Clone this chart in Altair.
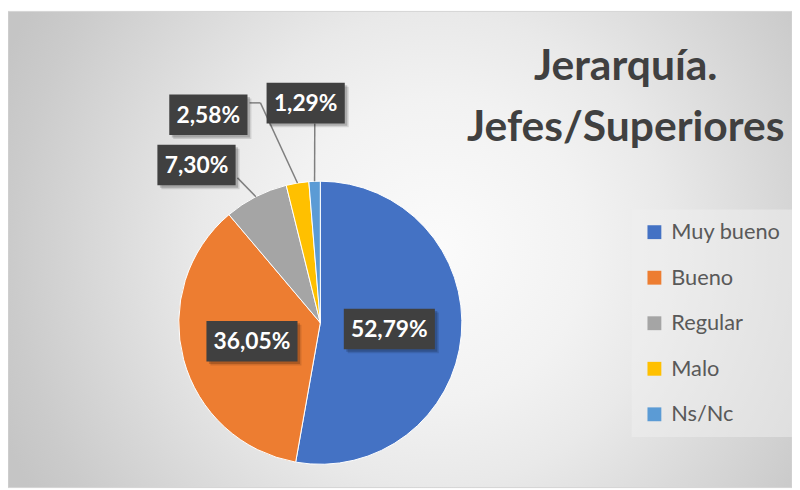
import altair as alt
import pandas as pd

# ---- data ----
categories = ["Muy bueno", "Bueno", "Regular", "Malo", "Ns/Nc"]
values = [52.79, 36.05, 7.30, 2.58, 1.29]
colors = ["#4472C4", "#ED7D31", "#A5A5A5", "#FFC000", "#5B9BD5"]
title_lines = ["Jerarquía.", "Jefes/Superiores"]

# label placement (Excel-style: inside at half radius, outside labels moved by hand)
LABEL_LAYOUT = {
    "Muy bueno": dict(lr=0.5, ox=-1.5, oy=0, out=False, e1x=0, e1y=0, e2x=0, e2y=0),
    "Bueno": dict(lr=0.5, ox=0, oy=0, out=False, e1x=0, e1y=0, e2x=0, e2y=0),
    "Regular": dict(lr=1.0, ox=-60, oy=-32, out=True, e1x=-18.6, e1y=-19, e2x=-18.6, e2y=-19),
    "Malo": dict(lr=1.0, ox=-90, oy=-69, out=True, e1x=-37.4, e1y=-81, e2x=-48.4, e2y=-81),
    "Ns/Nc": dict(lr=1.0, ox=-9, oy=-79, out=True, e1x=0.2, e1y=-58.5, e2x=0.2, e2y=-58.5),
}

rows = []
for i, (c, v) in enumerate(zip(categories, values)):
    r = {"cat": c, "value": v, "idx": i,
         "label": f"{v:.2f}".replace(".", ",") + "%"}
    r.update(LABEL_LAYOUT[c])
    rows.append(r)
df = pd.DataFrame(rows)

W, H = 792, 482
CX, CY, R = 315.5, 315.5, 143
FONT = "Lato"

base = alt.Chart(df).transform_window(
    cum="sum(value)", sort=[alt.SortField("idx")], frame=[None, 0]
).transform_joinaggregate(
    total="sum(value)"
).transform_calculate(
    mid="(datum.cum - datum.value/2) / datum.total * 2 * PI",
    ex=f"{CX} + {R} * sin(datum.mid)",
    ey=f"{CY} - {R} * cos(datum.mid)",
).transform_calculate(
    ax=f"{CX} + {R} * datum.lr * sin(datum.mid) + datum.ox",
    ay=f"{CY} - {R} * datum.lr * cos(datum.mid) + datum.oy",
    bw="14 + 13 * length(datum.label)",
    l1x="datum.ex + datum.e1x", l1y="datum.ey + datum.e1y",
    l2x="datum.ex + datum.e2x", l2y="datum.ey + datum.e2y",
).transform_calculate(
    bx1="datum.ax - datum.bw/2", bx2="datum.ax + datum.bw/2",
    by1="datum.ay - 20.5", by2="datum.ay + 20.5",
)

one = pd.DataFrame({"k": [0]})

frame = alt.Chart(one).mark_rect(
    fill={"gradient": "radial", "x1": 0.545, "y1": 0.5, "r1": 0,
          "x2": 0.545, "y2": 0.5, "r2": 0.6,
          "stops": [{"offset": 0, "color": "#fbfbfb"},
                    {"offset": 0.32, "color": "#f2f2f2"},
                    {"offset": 0.5, "color": "#e9e9e9"},
                    {"offset": 0.9, "color": "#cbcbcb"},
                    {"offset": 1, "color": "#c5c5c5"}]},
    stroke="#d4d4d4", strokeWidth=1,
).encode(x=alt.value(0), x2=alt.value(W), y=alt.value(1), y2=alt.value(H))

shadows = [
    alt.Chart(one).mark_circle(color="black", opacity=0.035).encode(
        x=alt.value(CX), y=alt.value(CY + 3), size=alt.value(3.14159 * r * r))
    for r in (155, 152, 150, 148, 146, 144.5)
]

pie = base.mark_arc(stroke="white", strokeWidth=1).encode(
    theta=alt.Theta("value:Q", stack=True),
    order=alt.Order("idx:Q"),
    color=alt.Color("cat:N", sort=categories,
                    scale=alt.Scale(domain=categories, range=colors),
                    legend=alt.Legend(title=None, orient="none", legendX=630, legendY=201,
                                      symbolType="square", symbolSize=196, symbolStrokeWidth=0,
                                      labelFont=FONT, labelFontSize=22, labelColor="#595959",
                                      rowPadding=24, labelOffset=6, padding=12,
                                      fillColor="rgba(240,240,240,0.5)")),
    x=alt.value(CX), y=alt.value(CY), radius=alt.value(R),
)

out = base.transform_filter("datum.out")
lead1 = out.mark_rule(color="#7f7f7f", strokeWidth=1.5).encode(
    x=alt.X("ex:Q", scale=None, axis=None), y=alt.Y("ey:Q", scale=None, axis=None),
    x2="l1x:Q", y2="l1y:Q")
lead2 = out.mark_rule(color="#7f7f7f", strokeWidth=1.5).encode(
    x=alt.X("l1x:Q", scale=None, axis=None), y=alt.Y("l1y:Q", scale=None, axis=None),
    x2="l2x:Q", y2="l2y:Q")

box_shadows = [
    base.transform_calculate(sx1=f"datum.bx1+{d}", sx2=f"datum.bx2+{d}",
                             sy1=f"datum.by1+{d}", sy2=f"datum.by2+{d}")
    .mark_rect(fill="black", opacity=op).encode(
        x=alt.X("sx1:Q", scale=None, axis=None), x2="sx2:Q",
        y=alt.Y("sy1:Q", scale=None, axis=None), y2="sy2:Q")
    for d, op in ((4, 0.12), (2.5, 0.18))
]
boxes = base.mark_rect(fill="#404040").encode(
    x=alt.X("bx1:Q", scale=None, axis=None), x2="bx2:Q",
    y=alt.Y("by1:Q", scale=None, axis=None), y2="by2:Q")
texts = base.mark_text(font=FONT, fontWeight="bold", fontSize=23, color="white",
                       baseline="middle", align="center", dy=1).encode(
    x=alt.X("ax:Q", scale=None, axis=None), y=alt.Y("ay:Q", scale=None, axis=None),
    text="label:N")

title1 = alt.Chart(one).mark_text(font=FONT, fontWeight="bold", fontSize=43, color="#404040",
                                  align="center", baseline="alphabetic").encode(
    x=alt.value(624), y=alt.value(70), text=alt.value(title_lines[0]))
title2 = alt.Chart(one).mark_text(font=FONT, fontWeight="bold", fontSize=43, color="#404040",
                                  align="center", baseline="alphabetic").encode(
    x=alt.value(624), y=alt.value(132), text=alt.value(title_lines[1]))

chart = alt.layer(frame, *shadows, pie, lead1, lead2, *box_shadows, boxes, texts, title1, title2
).properties(
    width=W, height=H, padding=0, autosize=alt.AutoSizeParams(type="none")
).configure_view(stroke=None)

chart.save("out.html", embed_options={"renderer": "svg", "actions": False})
